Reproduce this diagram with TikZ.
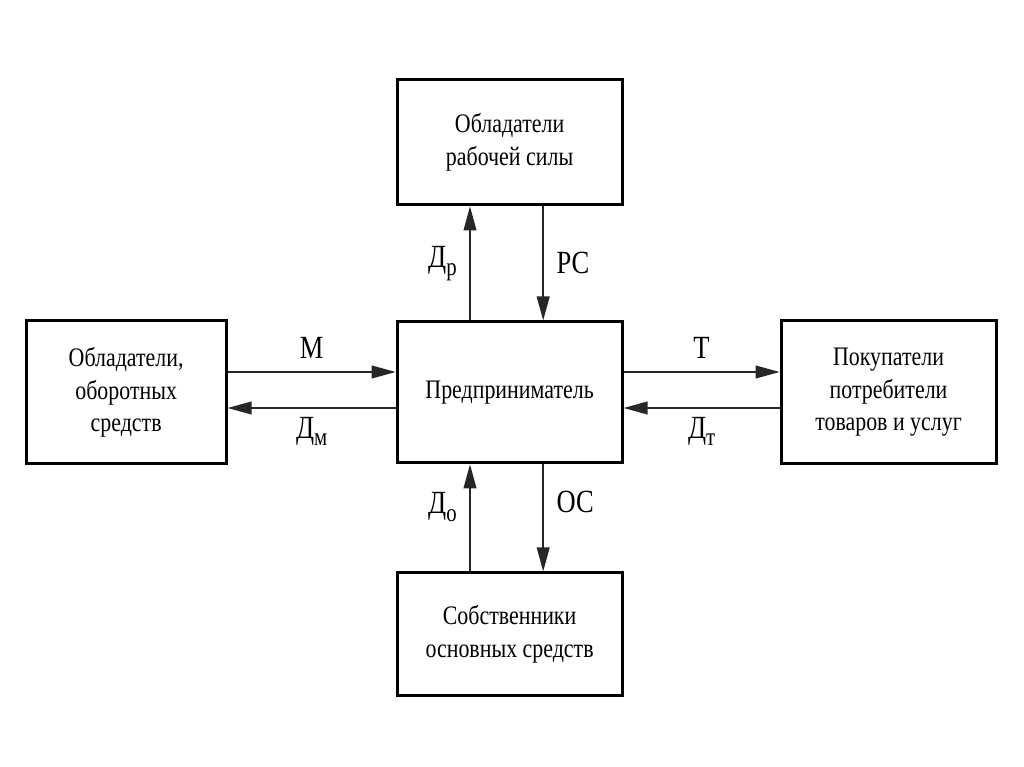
\documentclass[tikz,border=0pt]{standalone}
\usepackage{fontspec}
\setmainfont{Liberation Serif}[FakeStretch=0.82]
\usetikzlibrary{arrows.meta,positioning}
\newcommand{\lowsub}[1]{\raisebox{-0.5ex}{\fontsize{18}{18}\selectfont #1}}
\tikzset{
  flow/.style={-{Triangle[length=0.6cm,width=0.32cm]}, line width=1pt, draw=black!85},
  party/.style={draw=black, line width=2.1pt, rectangle, align=center, inner sep=0pt,
    font=\fontsize{19}{23}\selectfont},
  lbl/.style={font=\fontsize{23}{26}\selectfont, inner sep=3pt}
}
\begin{document}
\begin{tikzpicture}
  \useasboundingbox[fill=white] (-12.74,-9.36) rectangle (12.86,9.81);
  \node[party, minimum width=5.625cm, minimum height=3.525cm] (ent) {Предприниматель};
  \node[party, minimum width=5.625cm, minimum height=3.125cm, above=2.85cm of ent] (labor) {Обладатели\\рабочей силы};
  \node[party, minimum width=5.625cm, minimum height=3.075cm, below=2.675cm of ent] (fixed) {Собственники\\основных средств};
  \node[party, minimum width=5cm, minimum height=3.575cm, left=4.2cm of ent] (stock) {Обладатели,\\оборотных\\средств};
  \node[party, minimum width=5.375cm, minimum height=3.575cm, right=3.9cm of ent] (buyers) {Покупатели\\потребители\\товаров и услуг};

  % labour
  \draw[flow] ([xshift=-0.99cm]ent.north) -- ([xshift=-0.99cm]labor.south)
    node[lbl, midway, left=6pt] {Д\lowsub{р}};
  \draw[flow] ([xshift=0.84cm]labor.south) -- ([xshift=0.84cm]ent.north)
    node[lbl, midway, right=6pt] {РС};
  % working capital
  \draw[flow] ([yshift=0.51cm]ent.west -| stock.east) -- ([yshift=0.51cm]ent.west)
    node[lbl, midway, above=6pt] {М};
  \draw[flow] ([yshift=-0.39cm]ent.west) -- ([yshift=-0.39cm]ent.west -| stock.east)
    node[lbl, midway, below=3pt] {Д\lowsub{м}};
  % goods
  \draw[flow] ([yshift=0.51cm]ent.east) -- ([yshift=0.51cm]ent.east -| buyers.west)
    node[lbl, midway, above=6pt] {Т};
  \draw[flow] ([yshift=-0.39cm]ent.east -| buyers.west) -- ([yshift=-0.39cm]ent.east)
    node[lbl, midway, below=3pt] {Д\lowsub{т}};
  % fixed capital
  \draw[flow] ([xshift=-0.99cm]fixed.north) -- ([xshift=-0.99cm]ent.south)
    node[lbl, pos=0.6, left=6pt] {Д\lowsub{о}};
  \draw[flow] ([xshift=0.84cm]ent.south) -- ([xshift=0.84cm]fixed.north)
    node[lbl, pos=0.35, right=6pt] {ОС};
\end{tikzpicture}
\end{document}
